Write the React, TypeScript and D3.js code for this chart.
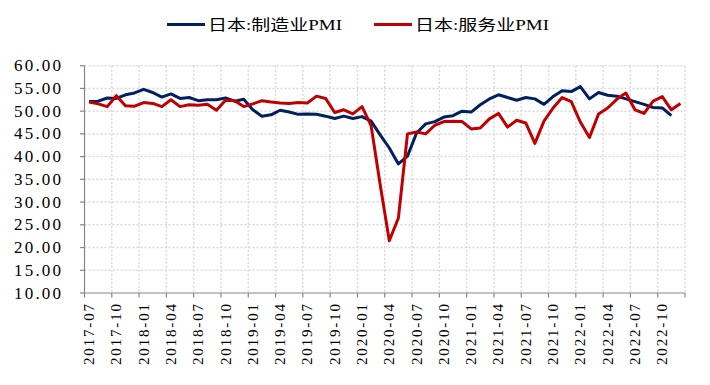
import React from "react";
import * as d3 from "d3";

const months: string[] = [
  "2017-07","2017-08","2017-09","2017-10","2017-11","2017-12",
  "2018-01","2018-02","2018-03","2018-04","2018-05","2018-06","2018-07","2018-08","2018-09","2018-10","2018-11","2018-12",
  "2019-01","2019-02","2019-03","2019-04","2019-05","2019-06","2019-07","2019-08","2019-09","2019-10","2019-11","2019-12",
  "2020-01","2020-02","2020-03","2020-04","2020-05","2020-06","2020-07","2020-08","2020-09","2020-10","2020-11","2020-12",
  "2021-01","2021-02","2021-03","2021-04","2021-05","2021-06","2021-07","2021-08","2021-09","2021-10","2021-11","2021-12",
  "2022-01","2022-02","2022-03","2022-04","2022-05","2022-06","2022-07","2022-08","2022-09","2022-10","2022-11","2022-12",
];

const manufacturing: (number | null)[] = [
  52.1, 52.2, 52.9, 52.8, 53.6, 54.0,
  54.8, 54.1, 53.1, 53.8, 52.8, 53.0, 52.3, 52.5, 52.5, 52.9, 52.2, 52.6,
  50.3, 48.9, 49.2, 50.2, 49.8, 49.3, 49.4, 49.3, 48.9, 48.4, 48.9, 48.4,
  48.8, 47.8, 44.8, 41.9, 38.4, 40.1, 45.2, 47.2, 47.7, 48.7, 49.0, 50.0,
  49.8, 51.4, 52.7, 53.6, 53.0, 52.4, 53.0, 52.7, 51.5, 53.2, 54.5, 54.3,
  55.4, 52.7, 54.1, 53.5, 53.3, 52.7, 52.1, 51.5, 50.8, 50.7, 49.0, null,
];

const services: (number | null)[] = [
  52.0, 51.6, 51.0, 53.4, 51.2, 51.1,
  51.9, 51.7, 51.0, 52.5, 51.0, 51.4, 51.3, 51.5, 50.2, 52.4, 52.3, 51.0,
  51.6, 52.3, 52.0, 51.8, 51.7, 51.9, 51.8, 53.3, 52.8, 49.7, 50.3, 49.4,
  51.0, 46.8, 33.8, 21.5, 26.5, 45.0, 45.4, 45.0, 46.9, 47.7, 47.8, 47.7,
  46.1, 46.3, 48.3, 49.5, 46.5, 48.0, 47.4, 42.9, 47.8, 50.7, 53.0, 52.1,
  47.6, 44.2, 49.4, 50.7, 52.6, 54.0, 50.3, 49.5, 52.2, 53.2, 50.3, 51.7,
];

const yTicks: number[] = [10, 15, 20, 25, 30, 35, 40, 45, 50, 55, 60];
const seriesNames: string[] = ["日本:制造业PMI", "日本:服务业PMI"];
const seriesColors: string[] = ["#002060", "#C00000"];

const W = 710;
const H = 385;
const left = 84.5;
const right = 685;
const top = 65.7;
const bottom = 293;

export default function App() {
  const x = d3.scaleBand<string>().domain(months).range([left, right]).padding(0);
  const y = d3.scaleLinear().domain([10, 60]).range([bottom, top]);
  const bw = x.bandwidth();
  const cx = (m: string) => (x(m) as number) + bw / 2;

  const line = d3
    .line<number | null>()
    .defined((d) => d != null)
    .x((_, i) => cx(months[i]))
    .y((d) => y(d as number));

  const boundaries: number[] = [];
  months.forEach((m, i) => {
    if (i % 3 === 0) boundaries.push(x(m) as number);
  });
  boundaries.push(right);

  const labelMonths = months.filter((_, i) => i % 3 === 0);
  const font = "'Liberation Serif', 'Noto Sans CJK SC', serif";
  const grid = "#d9d9d9";
  const axis = "#868686";

  return (
    <svg
      width={W}
      height={H}
      style={{ position: "absolute", left: 0, top: 0, background: "#fff" }}
    >
      {/* horizontal grid */}
      {yTicks.filter((t) => t > 10).map((t) => (
        <line key={"hg" + t} x1={left} x2={right} y1={y(t)} y2={y(t)} stroke={grid} strokeWidth={1.5} strokeDasharray="2,2" />
      ))}
      {/* vertical grid */}
      {boundaries.filter((b) => b > left + 1).map((b, i) => (
        <line key={"vg" + i} x1={b} x2={b} y1={top} y2={bottom} stroke={grid} strokeWidth={1.5} strokeDasharray="2,2" />
      ))}
      {/* axes */}
      <line x1={left} x2={left} y1={top} y2={bottom} stroke={axis} strokeWidth={1.2} />
      <line x1={left} x2={right} y1={bottom} y2={bottom} stroke={axis} strokeWidth={1.2} />
      {yTicks.map((t) => (
        <line key={"yt" + t} x1={left - 4.5} x2={left} y1={y(t)} y2={y(t)} stroke={axis} strokeWidth={1.2} />
      ))}
      {boundaries.map((b, i) => (
        <line key={"xt" + i} x1={b} x2={b} y1={bottom} y2={bottom + 4.5} stroke={axis} strokeWidth={1.2} />
      ))}
      {/* y labels */}
      {yTicks.map((t) => (
        <text
          key={"yl" + t}
          x={61}
          y={y(t)}
          textAnchor="end"
          dominantBaseline="central"
          fontFamily={font}
          fontSize={17}
          fill="#000"
          textLength={47}
          lengthAdjust="spacing"
        >
          {t.toFixed(2)}
        </text>
      ))}
      {/* x labels */}
      {labelMonths.map((m) => (
        <text
          key={"xl" + m}
          transform={`translate(${cx(m)},${bottom + 11}) rotate(-90)`}
          textAnchor="end"
          dominantBaseline="central"
          fontFamily={font}
          fontSize={15}
          fill="#000"
          textLength={61}
          lengthAdjust="spacing"
        >
          {m}
        </text>
      ))}
      {/* lines */}
      <path d={line(manufacturing) || ""} fill="none" stroke={seriesColors[0]} strokeWidth={3} strokeLinejoin="round" />
      <path d={line(services) || ""} fill="none" stroke={seriesColors[1]} strokeWidth={3} strokeLinejoin="round" />
      {/* legend */}
      {seriesNames.map((n, i) => {
        const lx = i === 0 ? 167 : 374;
        return (
          <g key={"lg" + i}>
            <line x1={lx} x2={lx + 38} y1={24.5} y2={24.5} stroke={seriesColors[i]} strokeWidth={3} />
            <text
              x={lx + 41}
              y={24.5}
              dominantBaseline="central"
              fontFamily={font}
              fontSize={15}
              fill="#000"
              textLength={134}
              lengthAdjust="spacingAndGlyphs"
            >
              {n}
            </text>
          </g>
        );
      })}
    </svg>
  );
}
